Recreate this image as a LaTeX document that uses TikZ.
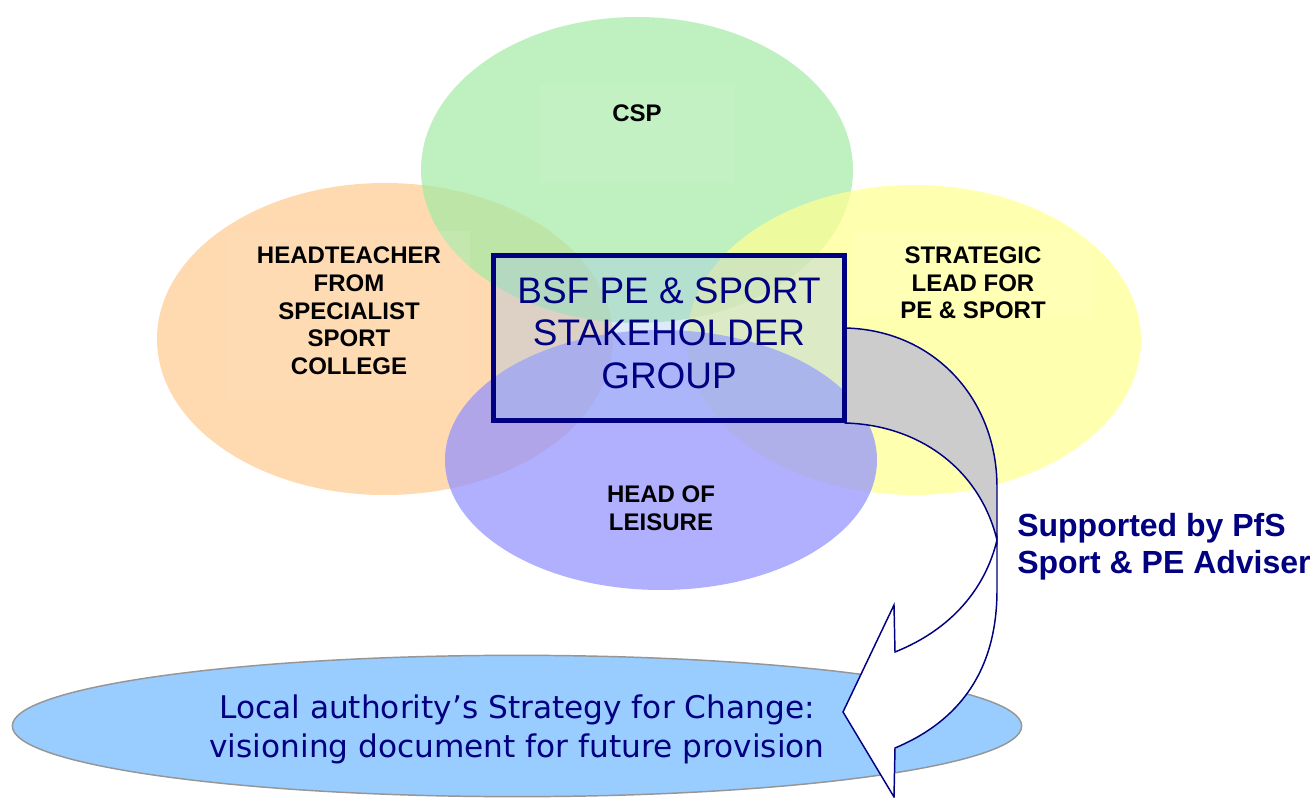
\documentclass[tikz,border=0pt]{standalone}
\usepackage{fontspec}
\setmainfont{Liberation Sans}
\newfontfamily\widesans{DejaVu Sans}
\usetikzlibrary{shapes.geometric,positioning}
\definecolor{pfsnavy}{RGB}{0,0,128}
\definecolor{bubble-orange}{RGB}{255,202,144}
\definecolor{bubble-green}{RGB}{166,234,166}
\definecolor{bubble-yellow}{RGB}{255,255,145}
\definecolor{bubble-blue}{RGB}{145,145,255}
\definecolor{hubfill}{RGB}{160,195,240}
\definecolor{backgrey}{RGB}{204,204,204}
\definecolor{lafill}{RGB}{153,204,255}
\definecolor{laedge}{RGB}{150,150,150}
\tikzset{%
  every bubble/.style={
    fill opacity=0.72
  },
  textpad/.style={
    fill=white,
    fill opacity=0.08
  },
  member/.style={
    align=center,
    inner sep=0pt,
    font=\bfseries\fontsize{18}{20.8}\selectfont
  },
  hub/.style={
    draw=pfsnavy,
    line width=3.75pt,
    fill=hubfill,
    fill opacity=0.35,
    text opacity=1,
    text=pfsnavy,
    align=center,
    text depth=7.5pt,
    minimum width=263pt,
    minimum height=124pt,
    font=\fontsize{27.7}{32}\selectfont
  },
  twist/.style={
    draw=pfsnavy,
    line width=1.1pt,
    line join=miter
  },
  strategy/.style={
    ellipse,
    draw=laedge,
    line width=1.1pt,
    fill=lafill,
    minimum width=757pt,
    minimum height=106pt,
    inner sep=0pt,
    align=center,
    text=pfsnavy,
    text depth=0pt,
    font=\widesans\fontsize{23.4}{29}\selectfont
  }
 }

\begin{document}
\begin{tikzpicture}[x=0.75pt, y=-0.75pt]

\useasboundingbox (0,0) rectangle (1311,798);

\foreach \c/\cx/\cy/\rx/\ry in {orange/385/339/228/156, green/637/170/216/153,
                               yellow/914/340/227/155, blue/661/460/216/130}
  \fill [every bubble/.try, fill=bubble-\c] (\cx,\cy) ellipse [x radius=\rx, y radius=\ry];

\fill [textpad] (540,85) rectangle (735,183);
\fill [textpad] (228,231) rectangle (470,400);
\fill [textpad] (853,232) rectangle (1093,318);

\node [strategy] (plan) at (517,726)
  {Local authority’s Strategy for Change:\\visioning document for future provision};

\coordinate (twist) at (997,540);

\filldraw [twist, fill=backgrey] (845,328) .. controls (935,330) and (997,400) .. (997,487)
  -- (twist) .. controls (980,470) and (920,425) .. (845,423) -- cycle;

\filldraw [twist, fill=white] (twist) -- (997,590) .. controls (997,680) and (950,725) .. (895,748)
  -- (894,797) -- (843,712) -- (894,605) -- (895,652)
  .. controls (950,630) and (985,590) .. (twist) -- cycle;

\node [hub] (hub) at (669,338) {BSF PE \& SPORT\\STAKEHOLDER\\GROUP};

\node [member] (csp) at (637,113) {CSP};
\node [member] (headteacher) at (349,311) {HEADTEACHER\\FROM\\SPECIALIST\\SPORT\\COLLEGE};
\node [member] (lead) at (973,283) {STRATEGIC\\LEAD FOR\\PE \& SPORT};
\node [member] (leisure) at (661,508) {HEAD OF\\LEISURE};

\node [anchor=west, align=left, inner sep=0pt, text=pfsnavy,
       font=\bfseries\fontsize{24}{27.75}\selectfont] (adviser) at (1017,547)
  {Supported by PfS\\Sport \& PE Adviser};

\end{tikzpicture}
\end{document}
